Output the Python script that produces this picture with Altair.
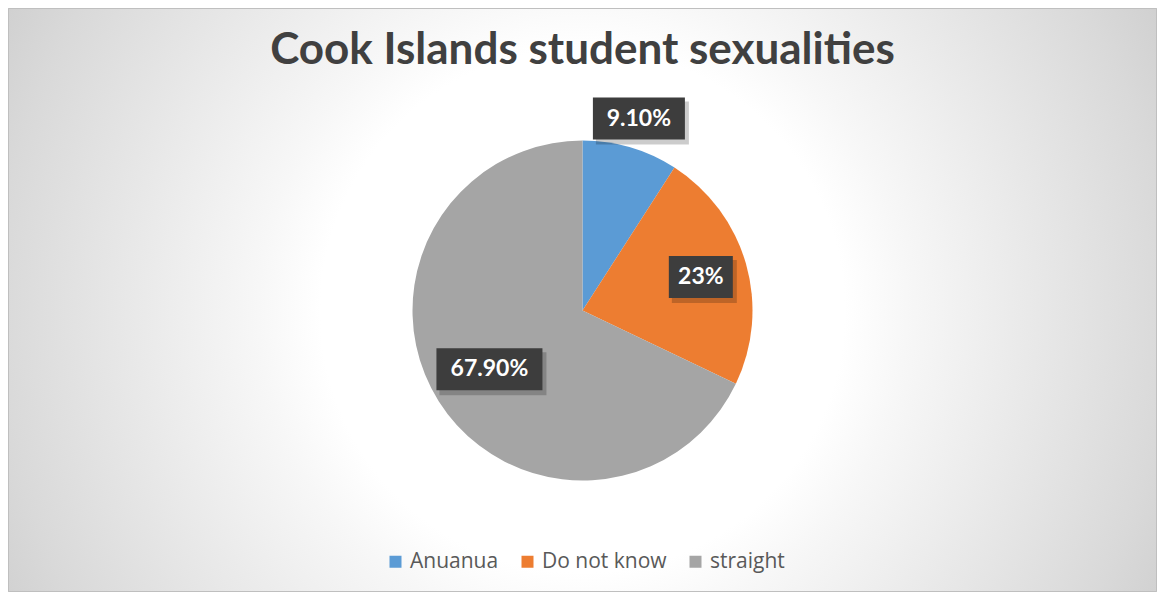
import altair as alt
import pandas as pd

categories = ["Anuanua", "Do not know", "straight"]
values = [9.1, 23.0, 67.9]
labels = ["9.10%", "23%", "67.90%"]
colors = ["#5B9BD5", "#ED7D31", "#A5A5A5"]
title_text = "Cook Islands student sexualities"

W, H = 1149, 584
CX, CY, R = 574.5, 302.5, 170

df = pd.DataFrame({"category": categories, "value": values, "label": labels,
                   "idx": list(range(len(categories)))})
one = pd.DataFrame({"t": [title_text]})

bg = alt.Chart(one).mark_rect(
    clip=True,
    color=alt.RadialGradient(
        gradient="radial", x1=0.5, y1=0.5, r1=0, x2=0.5, y2=0.5, r2=0.6,
        stops=[alt.GradientStop(offset=0, color="#ffffff"),
               alt.GradientStop(offset=0.38, color="#ffffff"),
               alt.GradientStop(offset=0.47, color="#f7f7f7"),
               alt.GradientStop(offset=0.85, color="#d9d9d9"),
               alt.GradientStop(offset=1.0, color="#cbcbcb")])
).encode(x=alt.value(0), x2=alt.value(W),
         y=alt.value(CY - W / 2), y2=alt.value(CY + W / 2))

border = alt.Chart(one).mark_rect(fill="transparent", stroke="#bfbfbf", strokeWidth=1).encode(
    x=alt.value(0.5), x2=alt.value(W - 0.5), y=alt.value(0.5), y2=alt.value(H - 0.5))

pie = alt.Chart(df).mark_arc(radius=R).encode(
    theta=alt.Theta("value:Q", stack=True),
    order=alt.Order("idx:Q"),
    color=alt.Color("category:N",
                    scale=alt.Scale(domain=categories, range=colors),
                    legend=alt.Legend(title=None, orient="none", direction="horizontal",
                                      legendX=377, legendY=543, symbolType="square",
                                      symbolSize=144, symbolStrokeWidth=0,
                                      labelFont="Open Sans", labelFontSize=21,
                                      labelColor="#595959", labelOffset=4,
                                      columnPadding=18, padding=0)),
    x=alt.value(CX), y=alt.value(CY),
)

base = alt.Chart(df).transform_joinaggregate(
    total="sum(value)"
).transform_window(
    cum="sum(value)", sort=[alt.SortField("idx")], frame=[None, 0]
).transform_calculate(
    mid="(datum.cum - datum.value / 2) / datum.total * 2 * PI",
    lr="datum.category == 'Anuanua' ? 200 : (datum.category == 'Do not know' ? 123 : 110)",
).transform_calculate(
    lx=f"{CX} + datum.lr * sin(datum.mid)",
    ly=f"{CY} - datum.lr * cos(datum.mid)",
    bw="length(datum.label) * 14 + 22",
).transform_calculate(
    bx1="datum.lx - datum.bw / 2", bx2="datum.lx + datum.bw / 2",
    by1="datum.ly - 21", by2="datum.ly + 21",
)

shadow = base.transform_calculate(
    sx1="datum.bx1 + 3", sx2="datum.bx2 + 4", sy1="datum.by1 + 4", sy2="datum.by2 + 5"
).mark_rect(color="#000000", opacity=0.2).encode(
    x=alt.X("sx1:Q", scale=None), x2="sx2:Q",
    y=alt.Y("sy1:Q", scale=None), y2="sy2:Q",
)

boxes = base.mark_rect(color="#3d3d3d").encode(
    x=alt.X("bx1:Q", scale=None), x2="bx2:Q",
    y=alt.Y("by1:Q", scale=None), y2="by2:Q",
)

texts = base.mark_text(font="Lato", fontWeight="bold", fontSize=23, color="#ffffff",
                       align="center", baseline="middle").encode(
    x=alt.X("lx:Q", scale=None), y=alt.Y("ly:Q", scale=None), text="label:N")

title = alt.Chart(one).mark_text(font="Lato", fontWeight="bold", fontSize=44, color="#404040",
                                  align="center", baseline="middle").encode(
    x=alt.value(CX), y=alt.value(43), text="t:N")

chart = alt.layer(bg, border, pie, shadow, boxes, texts, title).properties(
    width=W, height=H, padding=0, autosize=alt.AutoSizeParams(type="none")
).configure_view(strokeWidth=0)

chart.save("out.html", embed_options={"renderer": "svg", "actions": False})
